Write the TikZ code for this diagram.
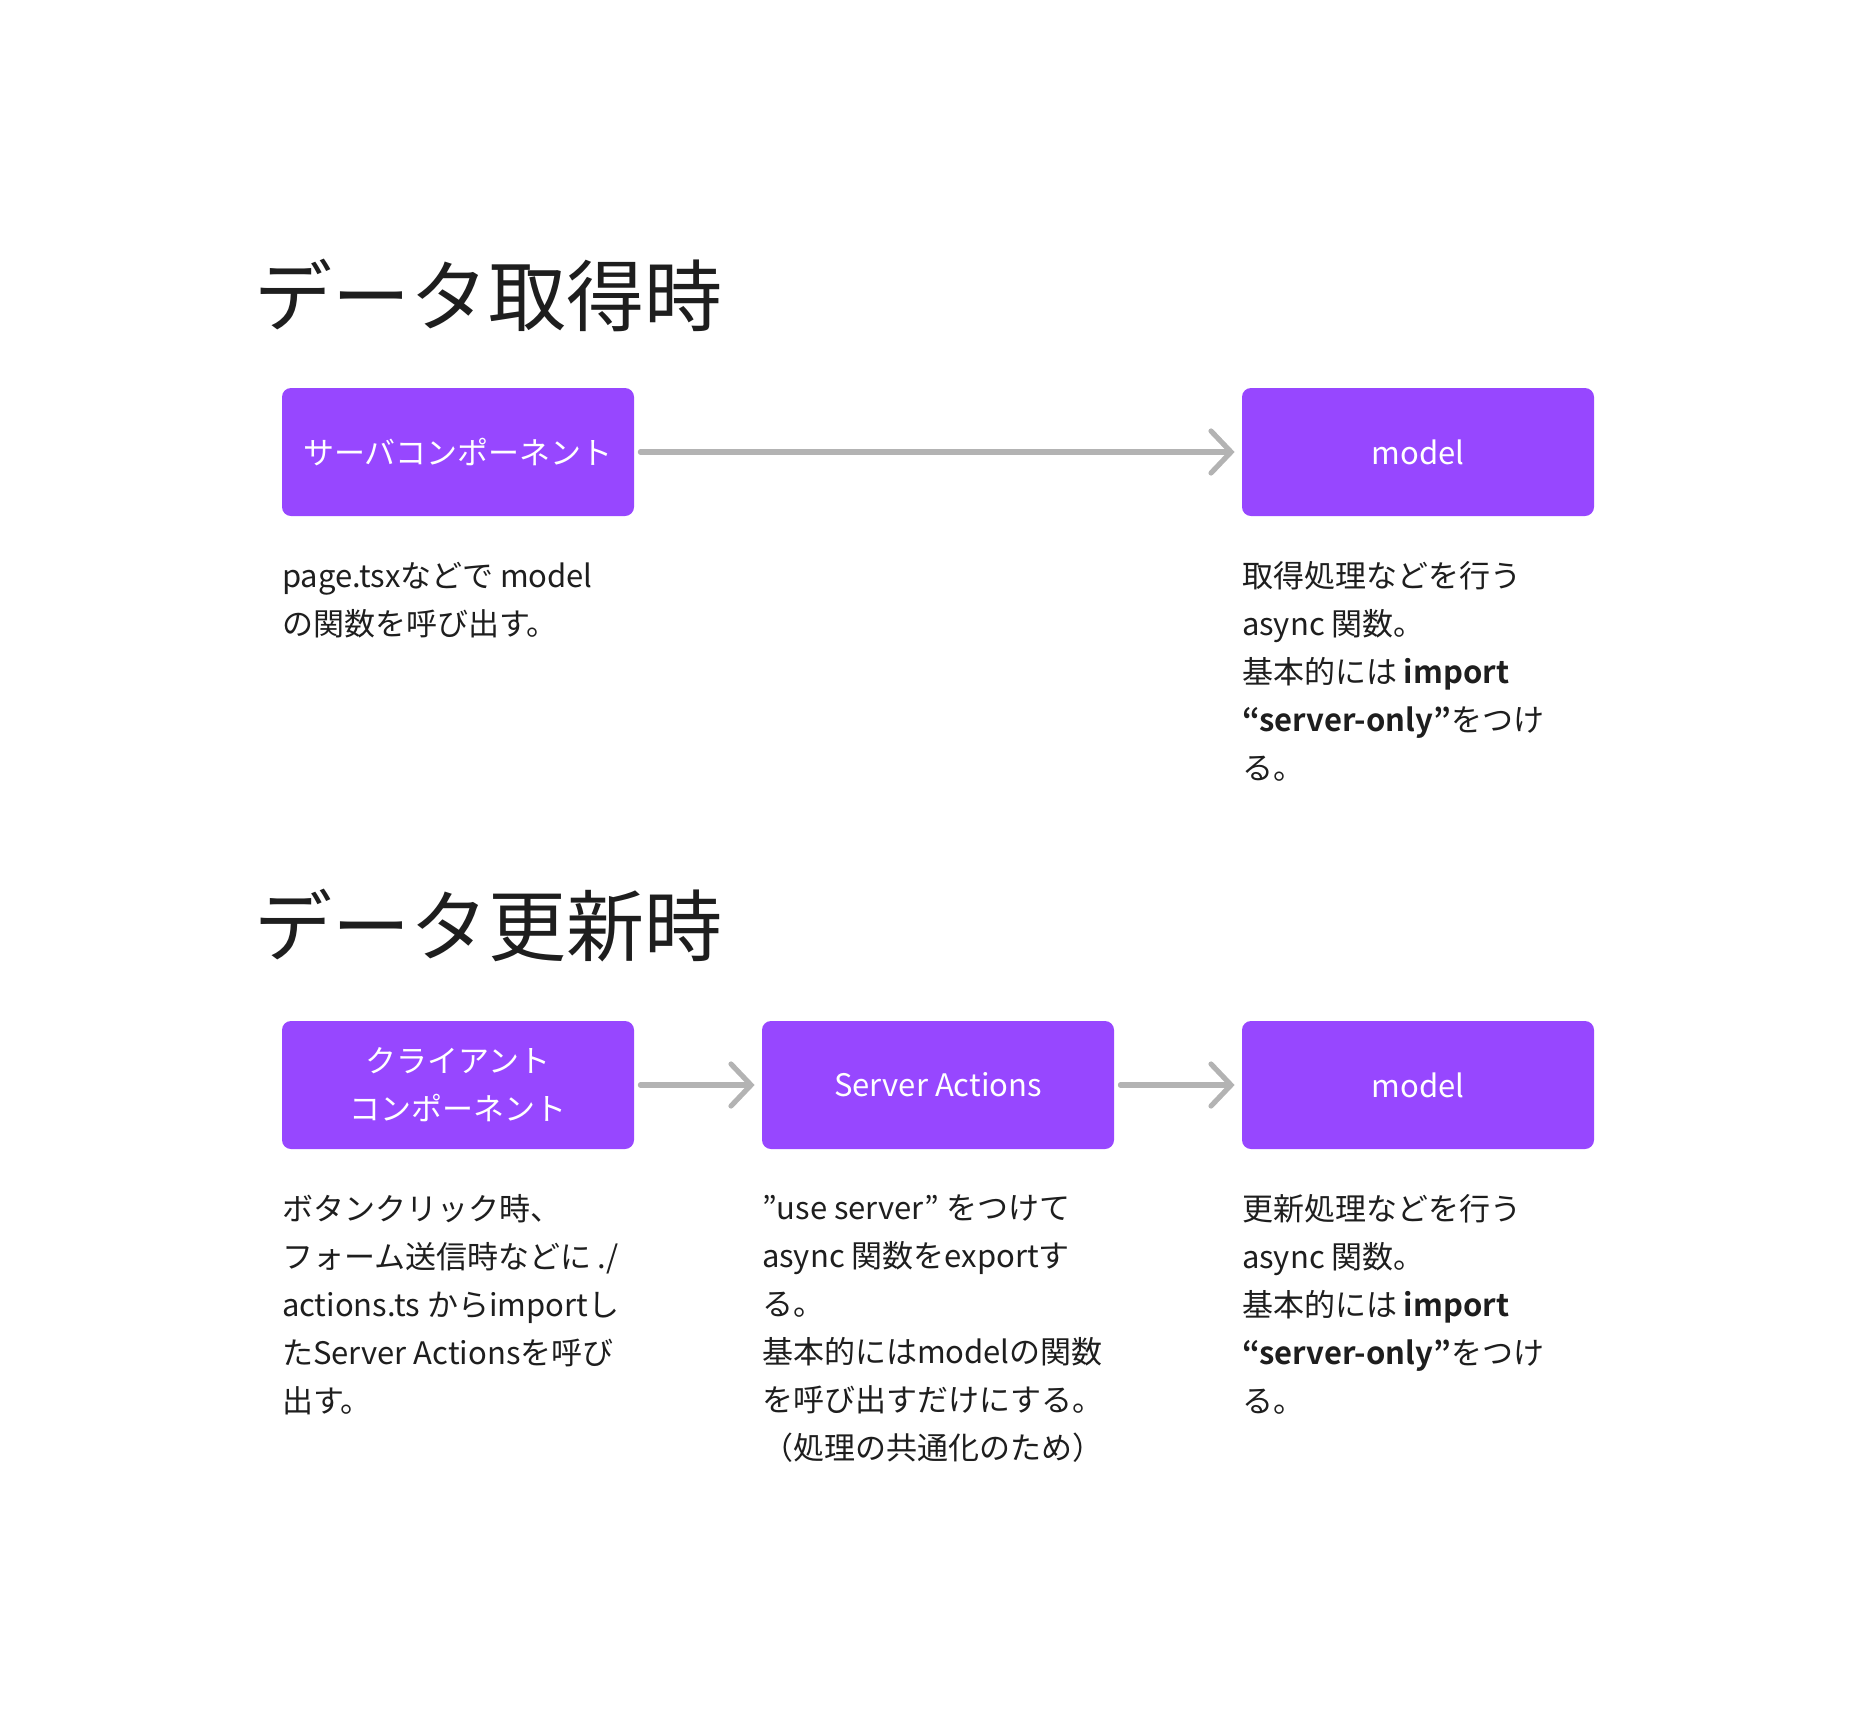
\documentclass[tikz,border=0pt]{standalone}
\usepackage{fontspec}
\setmainfont{Noto Sans CJK JP}[BoldFont={Noto Sans CJK JP Bold}]
\usepackage{xcolor}
\usepackage{tikz}
\usetikzlibrary{positioning,arrows.meta}
\definecolor{figpurple}{RGB}{151,71,255}
\definecolor{arrowgray}{RGB}{179,179,179}
\definecolor{inkgray}{RGB}{30,30,30}

\begin{document}
\begin{tikzpicture}[x=0.5pt, y=-0.5pt]
    \tikzstyle{block} = [rectangle, rounded corners=4.5pt, minimum width=176pt, minimum height=64pt, align=center, fill=figpurple, text=white, inner sep=0pt, font=\fontsize{15.5}{24}\selectfont]
    \tikzstyle{note} = [align=left, inner sep=0pt, text=inkgray, font=\fontsize{15.5}{24}\selectfont]
    \tikzstyle{heading} = [anchor=west, inner sep=0pt, text=inkgray, font=\fontsize{39}{44}\selectfont]
    \tikzstyle{flow} = [draw=arrowgray, line width=2.6pt, line cap=round, -{Straight Barb[length=10pt,width=21pt,line cap=round]}, shorten <=3pt, shorten >=3.5pt]

    \useasboundingbox (0,0) rectangle (1850,1720);

    % Fetching
    \node [heading] (fetch_title) at (254,295) {データ取得時};
    \node [block] (server_comp) at (458,452) {サーバコンポーネント};
    \node [block] (fetch_model) at (1418,452) {model};
    \node [note, below right=22.5pt and 0pt of server_comp.south west] (server_comp_note)
        {page.tsxなどで model\\の関数を呼び出す。};
    \node [note, below right=22.5pt and 0pt of fetch_model.south west] (fetch_model_note)
        {取得処理などを行う\\async 関数。\\基本的には \textbf{import}\\\textbf{“server-only”}をつけ\\る。};

    % Updating
    \node [heading] (update_title) at (254,926) {データ更新時};
    \node [block] (client_comp) at (458,1085) {クライアント\\コンポーネント};
    \node [block] (server_actions) at (938,1085) {Server Actions};
    \node [block] (update_model) at (1418,1085) {model};
    \node [note, below right=22.5pt and 0pt of client_comp.south west] (client_comp_note)
        {ボタンクリック時、\\フォーム送信時などに ./\\actions.ts からimportし\\たServer Actionsを呼び\\出す。};
    \node [note, below right=22.5pt and 0pt of server_actions.south west] (server_actions_note)
        {”use server” をつけて\\async 関数をexportす\\る。\\基本的にはmodelの関数\\を呼び出すだけにする。\\（処理の共通化のため）};
    \node [note, below right=22.5pt and 0pt of update_model.south west] (update_model_note)
        {更新処理などを行う\\async 関数。\\基本的には \textbf{import}\\\textbf{“server-only”}をつけ\\る。};

    % Arrows
    \draw [flow] (server_comp) -- (fetch_model);
    \draw [flow] (client_comp) -- (server_actions);
    \draw [flow] (server_actions) -- (update_model);
\end{tikzpicture}
\end{document}
